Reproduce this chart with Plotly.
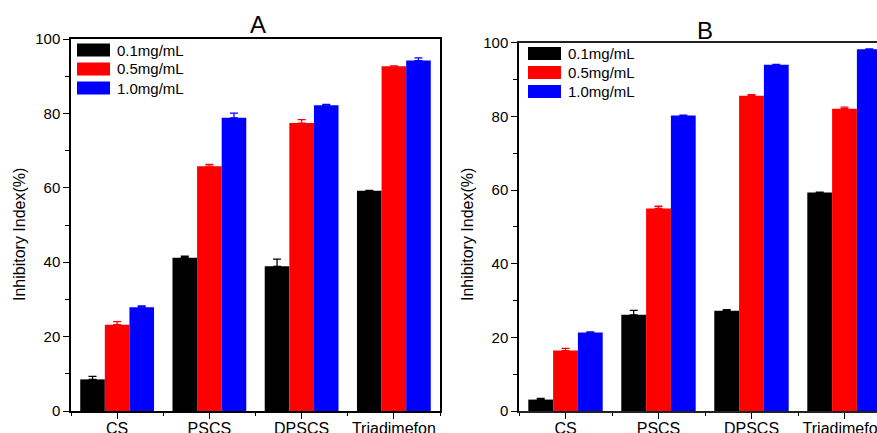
import plotly.graph_objects as go

categories = ["CS", "PSCS", "DPSCS", "Triadimefon"]
series_names = ["0.1mg/mL", "0.5mg/mL", "1.0mg/mL"]
colors = ["#000000", "#FF0000", "#0000FF"]

# Panel A values and (upper) errors
a_vals = [
    [8.5, 41.2, 38.9, 59.2],
    [23.2, 65.8, 77.4, 92.7],
    [27.9, 78.8, 82.2, 94.2],
]
a_errs = [
    [0.8, 0.4, 1.9, 0.1],
    [0.8, 0.5, 0.9, 0.1],
    [0.35, 1.3, 0.2, 0.7],
]
# Panel B values and (upper) errors
b_vals = [
    [3.1, 26.1, 27.2, 59.3],
    [16.4, 55.0, 85.6, 82.1],
    [21.3, 80.2, 94.0, 98.2],
]
b_errs = [
    [0.35, 1.2, 0.3, 0.1],
    [0.6, 0.6, 0.3, 0.4],
    [0.2, 0.1, 0.1, 0.1],
]
y_title = "Inhibitory Index(%)"
panel_titles = ["A", "B"]

W, H = 877, 433
xpos = list(range(1, len(categories) + 1))

fig = go.Figure()
for panel, (vals, errs) in enumerate([(a_vals, a_errs), (b_vals, b_errs)]):
    xa = "x" if panel == 0 else "x2"
    ya = "y" if panel == 0 else "y2"
    for i, name in enumerate(series_names):
        fig.add_trace(go.Bar(
            x=xpos, y=vals[i], name=name, marker_color=colors[i],
            marker_line_width=0, showlegend=False,
            error_y=dict(type="data", array=errs[i], arrayminus=[0] * len(errs[i]),
                         symmetric=False, color=colors[i], thickness=1.3, width=4),
            xaxis=xa, yaxis=ya, offsetgroup=str(i),
        ))

def px_x(p):
    return p / W

def px_y(p):
    return 1 - p / H

font = dict(family="Liberation Sans, Arial, sans-serif", color="#000000")

common_x = dict(
    tickmode="array", tickvals=xpos, ticktext=categories,
    ticks="outside", ticklen=6, tickwidth=1.3, tickcolor="#000",
    showline=True, linewidth=1.5, mirror=True,
    showgrid=False, zeroline=False, automargin=False,
    tickfont=dict(size=16, **font),
    ticklabeloverflow="allow", ticklabelstandoff=-4,
    minor=dict(tickmode="array", tickvals=[k + 0.5 for k in range(0, len(categories) + 1)],
               ticks="outside", ticklen=3.5, tickwidth=1.3, tickcolor="#000"),
)
common_y = dict(
    range=[0, 100], tickmode="linear", tick0=0, dtick=20,
    ticks="outside", ticklen=6, tickwidth=1.3, tickcolor="#000",
    showline=True, linecolor="#000", linewidth=1.5,
    showgrid=False, zeroline=False, automargin=False,
    tickfont=dict(size=15, **font),
    minor=dict(dtick=10, ticks="outside", ticklen=4, tickwidth=1.3, tickcolor="#000"),
)

fig.update_layout(
    width=W, height=H,
    margin=dict(l=0, r=0, t=0, b=0),
    paper_bgcolor="white", plot_bgcolor="white",
    barmode="group", bargap=0.2, bargroupgap=0,
    showlegend=False,
    xaxis=dict(domain=[px_x(71), px_x(440)], range=[0.5, 4.5], anchor="y",
               linecolor="#000", **common_x),
    yaxis=dict(domain=[px_y(411), px_y(39)], anchor="x", mirror=True, **common_y),
    xaxis2=dict(domain=[px_x(519), 1.0], range=[0.5, 0.5 + (W - 519) / 93.0], anchor="y2",
                linecolor="#222", **common_x),
    yaxis2=dict(domain=[px_y(411), px_y(42.7)], anchor="x2", mirror=False, **common_y),
)

annotations = []
shapes = []
# panel titles
for (tx, ty, t) in [(258, 25, panel_titles[0]), (705, 31, panel_titles[1])]:
    annotations.append(dict(x=px_x(tx), y=px_y(ty), xref="paper", yref="paper",
                            text=t, showarrow=False, xanchor="center", yanchor="middle",
                            font=dict(size=24, **font)))
# y-axis titles
for tx in (19, 467):
    annotations.append(dict(x=px_x(tx), y=px_y(235), xref="paper", yref="paper",
                            text=y_title, showarrow=False, textangle=-90,
                            xanchor="center", yanchor="middle",
                            font=dict(size=16, **font)))
# legends (swatch + text)
for (sx, sy0, tx) in [(77, 50, 115), (528, 53.5, 566)]:
    for i, name in enumerate(series_names):
        cy = sy0 + i * 19
        shapes.append(dict(type="rect", xref="paper", yref="paper",
                           x0=px_x(sx), x1=px_x(sx + 33), y0=px_y(cy + 6.5), y1=px_y(cy - 6.5),
                           fillcolor=colors[i], line=dict(width=0)))
        annotations.append(dict(x=px_x(tx), y=px_y(cy), xref="paper", yref="paper",
                                text=name, showarrow=False, xanchor="left", yanchor="middle",
                                font=dict(size=15, **font)))
fig.update_layout(annotations=annotations, shapes=shapes)

fig.write_html("out.html")
